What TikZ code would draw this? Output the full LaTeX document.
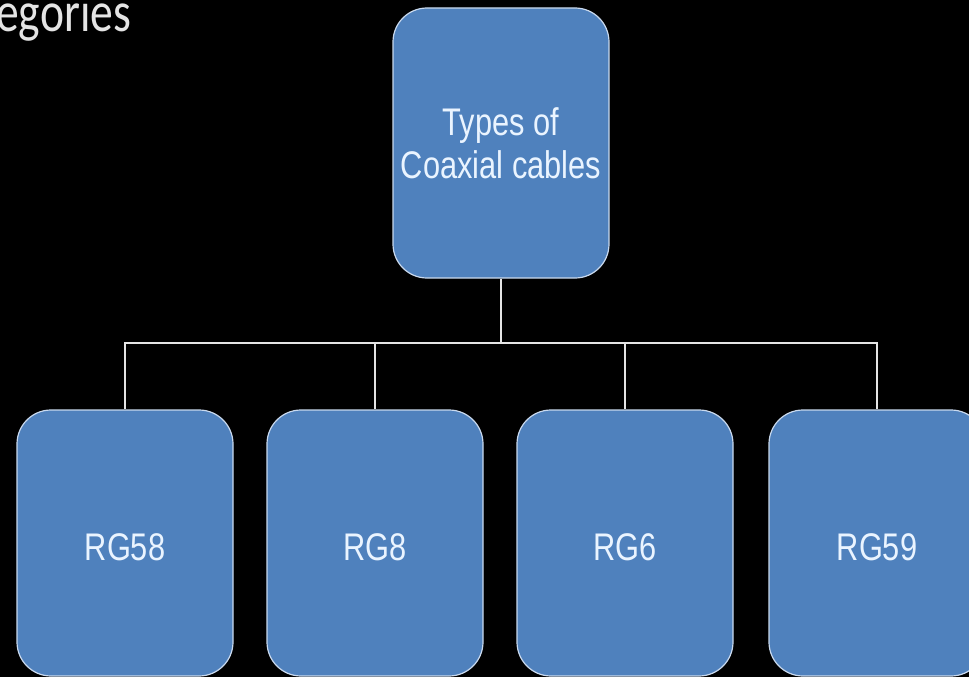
\documentclass[tikz,border=0pt]{standalone}
\usepackage{fontspec}
\setmainfont{Liberation Sans}
\newfontfamily\headfont{Carlito}[FakeStretch=0.8]
\newfontfamily\boxfont{Liberation Sans}[FakeStretch=0.8]
\definecolor{boxblue}{HTML}{4F81BD}
\definecolor{boxedge}{HTML}{C9D9EE}
\definecolor{boxtext}{HTML}{EAF4FF}
\definecolor{headgray}{HTML}{E4E4E4}
\tikzset{
  cabbox/.style={draw=boxedge, line width=1.2pt, fill=boxblue, rounded corners=34pt,
    minimum width=216pt, inner sep=0pt, text=boxtext, align=center,
    font=\boxfont\fontsize{38.5}{43}\selectfont},
  leafbox/.style={cabbox, minimum height=266pt, text height=35pt, text depth=0pt},
  link/.style={draw=white!90!black, line width=2pt},
}
\begin{document}
\begin{tikzpicture}[x=1pt,y=-1pt]
\fill[black] (0,0) rectangle (969,677);
\useasboundingbox (0,0) rectangle (969,677);
\clip (0,0) rectangle (969,677);
\node[anchor=base west, inner sep=0pt, text=headgray, font=\headfont\fontsize{57}{57}\selectfont] (head) at (-4,32) {egories};

\node[cabbox, minimum height=270pt] (cab0) at (501,143) {Types of\\Coaxial cables};
\node[leafbox] (cab1) at (125,543) {RG58};
\node[leafbox] (cab2) at (375,543) {RG8};
\node[leafbox] (cab3) at (625,543) {RG6};
\node[leafbox] (cab4) at (877,543) {RG59};
\coordinate (bus) at (501,343);

\draw[link] (cab0.south) -- (bus);
\draw[link] (bus) -| (cab1.north);
\draw[link] (bus) -| (cab2.north);
\draw[link] (bus) -| (cab3.north);
\draw[link] (bus) -| (cab4.north);
\end{tikzpicture}
\end{document}
